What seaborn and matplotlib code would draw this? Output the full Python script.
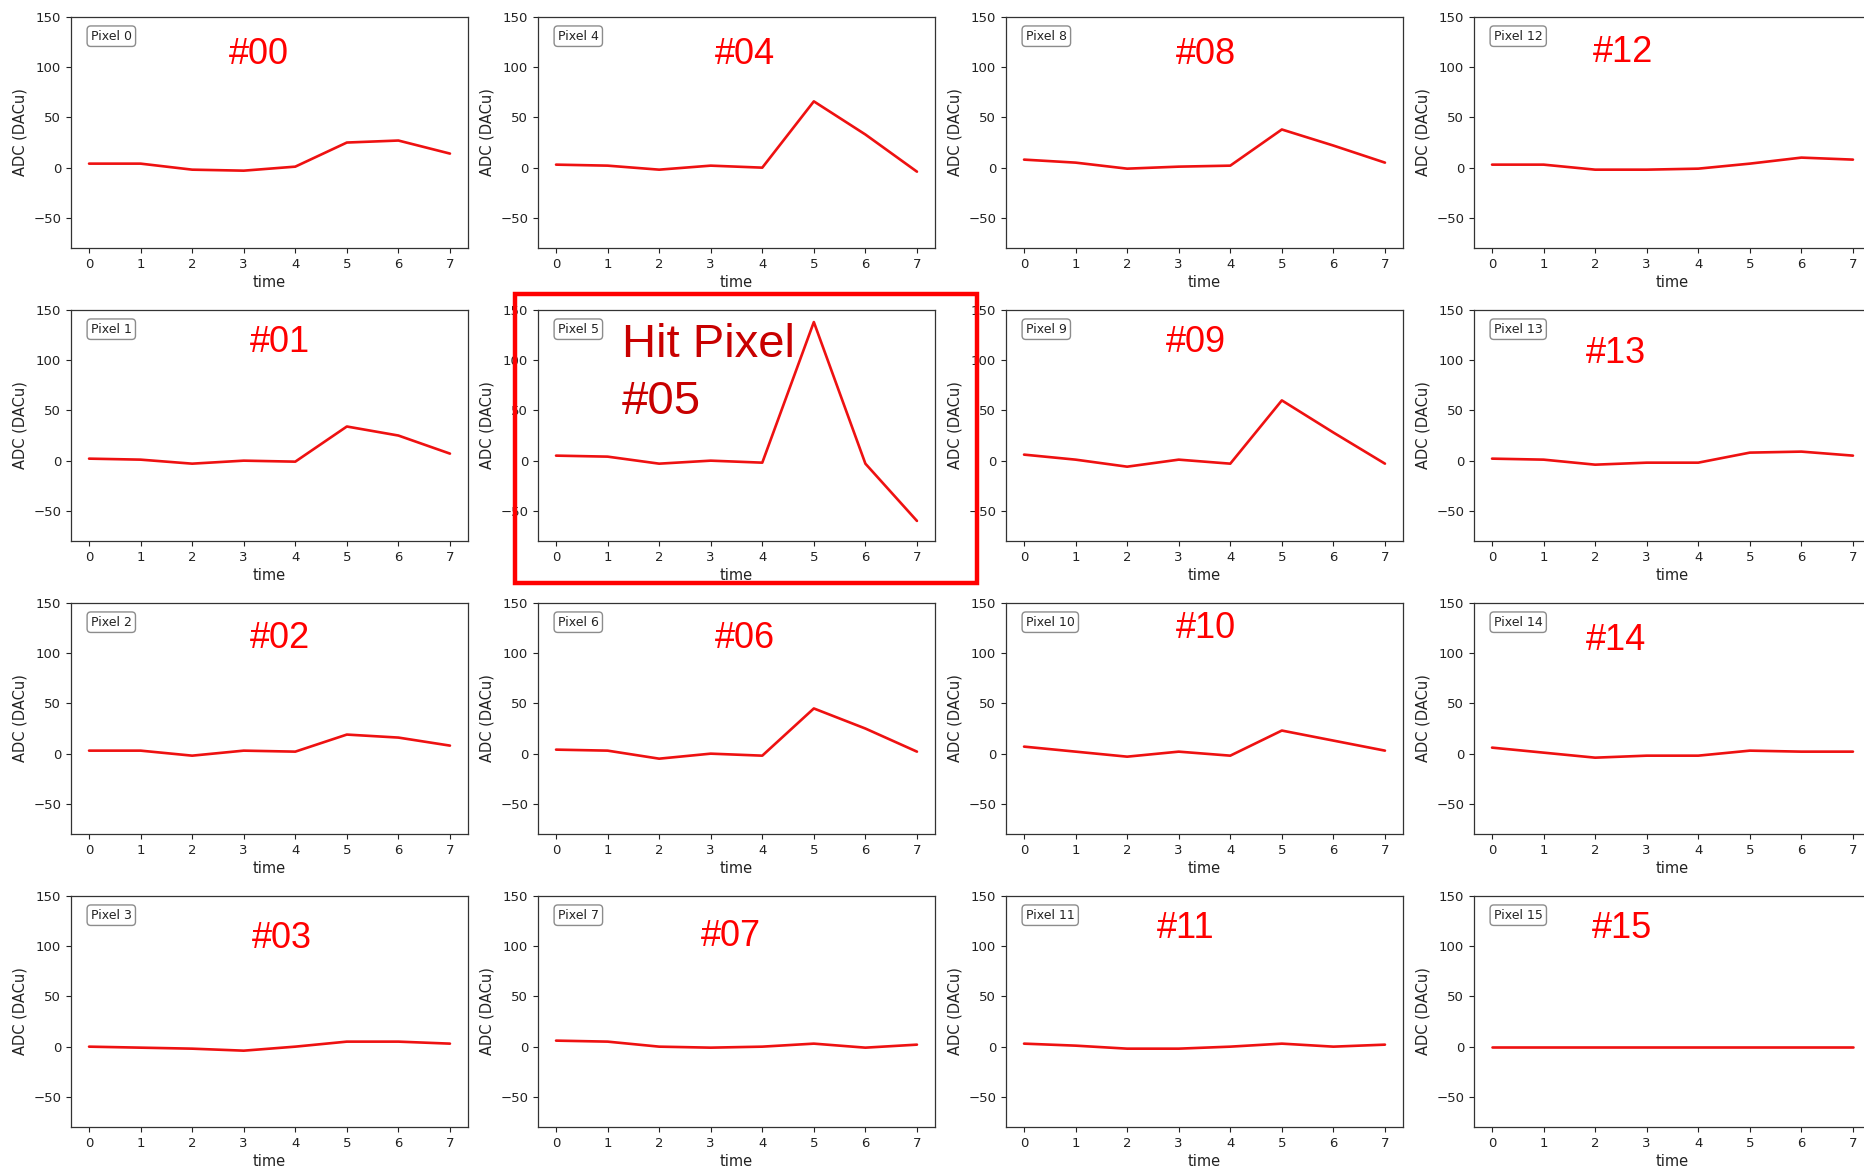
import matplotlib
matplotlib.use("Agg")
import matplotlib.pyplot as plt
import matplotlib.patches as patches
import numpy as np
import pandas as pd
import seaborn as sns

# ADC waveforms (DACu) for the 16 pixels, 8 time samples each
time = [0, 1, 2, 3, 4, 5, 6, 7]
pixel_00 = [4, 4, -2, -3, 1, 25, 27, 14]
pixel_01 = [2, 1, -3, 0, -1, 34, 25, 7]
pixel_02 = [3, 3, -2, 3, 2, 19, 16, 8]
pixel_03 = [0, -1, -2, -4, 0, 5, 5, 3]
pixel_04 = [3, 2, -2, 2, 0, 66, 33, -4]
pixel_05 = [5, 4, -3, 0, -2, 138, -3, -60]
pixel_06 = [4, 3, -5, 0, -2, 45, 25, 2]
pixel_07 = [6, 5, 0, -1, 0, 3, -1, 2]
pixel_08 = [8, 5, -1, 1, 2, 38, 22, 5]
pixel_09 = [6, 1, -6, 1, -3, 60, 28, -3]
pixel_10 = [7, 2, -3, 2, -2, 23, 13, 3]
pixel_11 = [3, 1, -2, -2, 0, 3, 0, 2]
pixel_12 = [3, 3, -2, -2, -1, 4, 10, 8]
pixel_13 = [2, 1, -4, -2, -2, 8, 9, 5]
pixel_14 = [6, 1, -4, -2, -2, 3, 2, 2]
pixel_15 = [0, 0, 0, 0, 0, 0, 0, 0]

waveforms = [pixel_00, pixel_01, pixel_02, pixel_03, pixel_04, pixel_05,
             pixel_06, pixel_07, pixel_08, pixel_09, pixel_10, pixel_11,
             pixel_12, pixel_13, pixel_14, pixel_15]
tags = ["#00", "#01", "#02", "#03", "#04", "#05", "#06", "#07",
        "#08", "#09", "#10", "#11", "#12", "#13", "#14", "#15"]
yticks = [-50, 0, 50, 100, 150]

sns.set_style("ticks")
plt.rcParams["font.family"] = ["DejaVu Sans"]

W, H = 1864, 1167
fig = plt.figure(figsize=(W / 100, H / 100), dpi=100)

col_left = [71, 538, 1006, 1474]
row_top = [17, 310, 603, 896]
ax_w, ax_h = 397, 231

# tag positions (left x, center y) in pixels
tag_pos = [(229, 54), (250, 342), (250, 638), (252, 938),
           (715, 54), (622, 402), (715, 638), (701, 937),
           (1176, 54), (1166, 342), (1176, 629), (1157, 929),
           (1593, 53), (1586, 353), (1586, 641), (1592, 929)]

for p, values in enumerate(waveforms):
    col, row = divmod(p, 4)
    left = col_left[col] / W
    bottom = 1 - (row_top[row] + ax_h) / H
    ax = fig.add_axes([left, bottom, ax_w / W, ax_h / H])
    df = pd.DataFrame({"time": time, "adc": values})
    sns.lineplot(data=df, x="time", y="adc", ax=ax, color="#ee1111",
                 linewidth=1.9, legend=False)
    ax.set_ylim(-80, 150)
    ax.set_xlim(-0.35, 7.35)
    ax.set_xticks(time)
    ax.set_yticks(yticks)
    ax.tick_params(labelsize=9.5, length=3.5, width=0.8, color="#222222",
                   labelcolor="#222222")
    ax.set_xlabel("time", fontsize=10.5, color="#222222", labelpad=3)
    ax.set_ylabel("ADC (DACu)", fontsize=10.5, color="#222222", labelpad=4)
    for s in ax.spines.values():
        s.set_linewidth(0.9)
        s.set_color("#333333")
    ax.text(0.05, 0.945, f"Pixel {p}", transform=ax.transAxes, fontsize=9,
            va="top", ha="left", color="#222222",
            bbox=dict(boxstyle="round,pad=0.3", fc="white", ec="0.55", lw=1))

    tx, ty = tag_pos[p]
    if p == 5:
        fig.text(tx / W, 1 - 345 / H, "Hit Pixel", fontsize=34,
                 color="#c80000", family=["Liberation Sans"], ha="left",
                 va="center")
        fig.text(tx / W, 1 - ty / H, tags[p], fontsize=34, color="#c80000",
                 family=["Liberation Sans"], ha="left", va="center")
    else:
        fig.text(tx / W, 1 - ty / H, tags[p], fontsize=26, color="#ff0000",
                 family=["Liberation Sans"], ha="left", va="center")

# frame highlighting the hit pixel
rect = patches.Rectangle((515 / W, 1 - 583 / H), (977 - 515) / W, (583 - 294) / H,
                         transform=fig.transFigure, fill=False,
                         edgecolor="#ff0000", linewidth=3.2)
fig.patches.append(rect)

fig.savefig("out.png", dpi=100)
